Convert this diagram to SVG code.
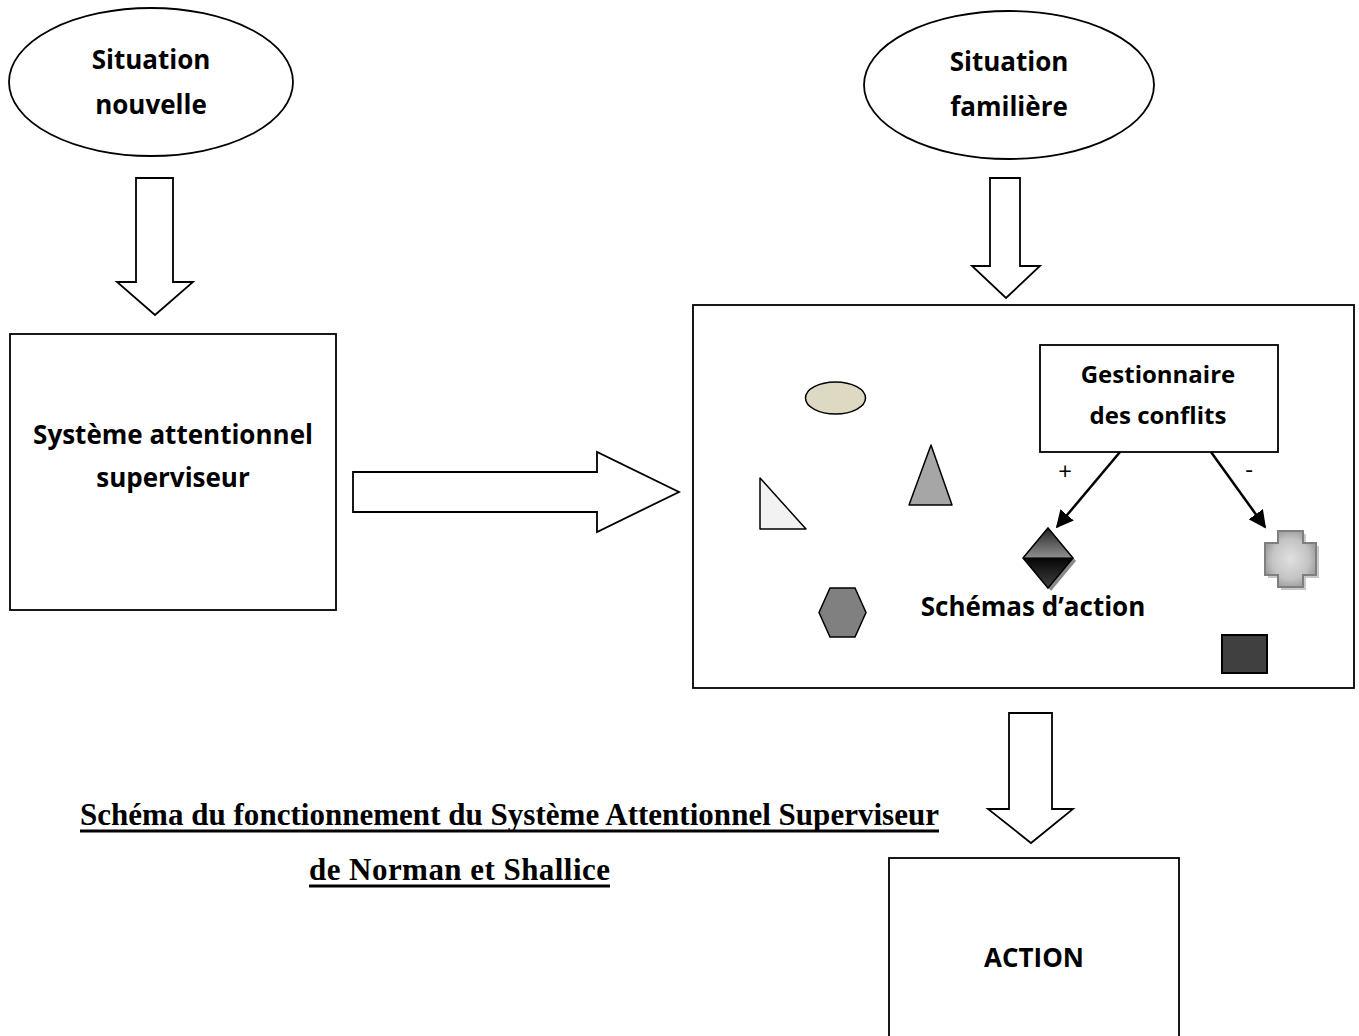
<svg xmlns="http://www.w3.org/2000/svg" width="1359" height="1036" viewBox="0 0 1359 1036">
  <style>
    .box { fill: #ffffff; stroke: #000000; stroke-width: 1.8; }
    .block { fill: #ffffff; stroke: #000000; stroke-width: 1.8; stroke-linejoin: miter; }
    .lbl { font-family: "Open Sans", "Liberation Sans", sans-serif; font-weight: bold; font-size: 26px; fill: #000000; text-anchor: middle; }
    .lbl-sm { font-family: "Open Sans", "Liberation Sans", sans-serif; font-weight: bold; font-size: 24px; fill: #000000; text-anchor: middle; }
    .sign { font-family: "Open Sans", "Liberation Sans", sans-serif; font-size: 24px; fill: #000000; text-anchor: middle; }
    .title { font-family: "Liberation Serif", "Times New Roman", serif; font-weight: bold; font-size: 31px; fill: #000000; }
    .rule { stroke: #000000; stroke-width: 3; }
    .thin { stroke: #000000; stroke-width: 2.5; fill: none; }
  </style>
  <defs>
    <marker id="head" viewBox="0 0 10 10" refX="9" refY="5" markerWidth="7" markerHeight="7" markerUnits="strokeWidth" orient="auto">
      <path d="M0,0 L10,5 L0,10 Z" fill="#000000"/>
    </marker>
    <linearGradient id="diamondFill" x1="0" y1="0" x2="0" y2="1">
      <stop offset="0" stop-color="#262626"/>
      <stop offset="0.48" stop-color="#8c8c8c"/>
      <stop offset="0.5" stop-color="#050505"/>
      <stop offset="1" stop-color="#404040"/>
    </linearGradient>
    <radialGradient id="crossFill" cx="0.5" cy="0.5" r="0.6">
      <stop offset="0" stop-color="#e0e0e0"/>
      <stop offset="0.6" stop-color="#c4c4c4"/>
      <stop offset="1" stop-color="#8e8e8e"/>
    </radialGradient>
  </defs>

  <g id="situation-nouvelle">
    <ellipse class="box" cx="151" cy="82" rx="142" ry="74"/>
    <text class="lbl" x="151" y="69">Situation</text>
    <text class="lbl" x="151" y="114">nouvelle</text>
  </g>

  <g id="situation-familiere">
    <ellipse class="box" cx="1009" cy="85" rx="145" ry="74"/>
    <text class="lbl" x="1009" y="71">Situation</text>
    <text class="lbl" x="1009" y="116">familière</text>
  </g>

  <g id="sas">
    <rect class="box" x="10" y="334" width="326" height="276"/>
    <text class="lbl" x="173" y="444">Système attentionnel</text>
    <text class="lbl" x="173" y="487">superviseur</text>
  </g>

  <g id="schemas">
    <rect class="box" x="693" y="305" width="661" height="383"/>
    <ellipse cx="835.5" cy="398" rx="30" ry="16" fill="#ddd9c3" stroke="#000000" stroke-width="1.5"/>
    <path d="M760,478 L760,529 L806,529 Z" fill="#f2f2f2" stroke="#000000" stroke-width="1.5" stroke-linejoin="round"/>
    <path d="M931,445 L952,505 L909,505 Z" fill="#a6a6a6" stroke="#000000" stroke-width="1.5" stroke-linejoin="round"/>
    <path d="M830,588 H855 L866,612.5 L855,637 H830 L819,612.5 Z" fill="#808080" stroke="#000000" stroke-width="1.5"/>
    <!-- diamond with its drop shadow -->
    <path d="M1051,531 L1076,561 L1051,591 L1026,561 Z" fill="#8a8a8a"/>
    <path d="M1048,528 L1073,558 L1048,588 L1023,558 Z" fill="url(#diamondFill)" stroke="#000000" stroke-width="1.5"/>
    <!-- cross with its drop shadow -->
    <path d="M1281,534 H1306 V546 H1319 V578 H1306 V590 H1281 V578 H1268 V546 H1281 Z" fill="#c8c8c8"/>
    <path d="M1278,531 H1303 V543 H1316 V575 H1303 V587 H1278 V575 H1265 V543 H1278 Z" fill="url(#crossFill)" stroke="#7f7f7f" stroke-width="2"/>
    <rect x="1222" y="635" width="45" height="38" fill="#404040" stroke="#000000" stroke-width="2"/>
    <text class="lbl" x="1033" y="616">Schémas d’action</text>
  </g>

  <g id="gestionnaire">
    <rect class="box" x="1040" y="345" width="238" height="107"/>
    <text class="lbl-sm" x="1158" y="383">Gestionnaire</text>
    <text class="lbl-sm" x="1158" y="424">des conflits</text>
  </g>

  <g id="action">
    <rect class="box" x="889" y="858" width="290" height="190"/>
    <text class="lbl" x="1034" y="967">ACTION</text>
  </g>

  <g id="caption">
    <text class="title" x="80" y="825" textLength="859" lengthAdjust="spacing">Schéma du fonctionnement du Système Attentionnel Superviseur</text>
    <line class="rule" x1="80" y1="831" x2="939" y2="831"/>
    <text class="title" x="309" y="880" textLength="301" lengthAdjust="spacing">de Norman et Shallice</text>
    <line class="rule" x1="309" y1="886" x2="610" y2="886"/>
  </g>

  <!-- connectors: block arrows and the two signed links -->
  <g id="connectors">
    <path class="block" d="M136,178 H173 V282 H193 L155,315 L117,282 H136 Z"/>
    <path class="block" d="M990,178 H1020 V266 H1040 L1006,298 L972,266 H990 Z"/>
    <path class="block" d="M353,472 H597 V452 L679,492 L597,532 V512 H353 Z"/>
    <path class="block" d="M1009,713 H1052 V809 H1073 L1031,843 L988,809 H1009 Z"/>
    <line class="thin" x1="1120" y1="452" x2="1057" y2="527" marker-end="url(#head)"/>
    <line class="thin" x1="1211" y1="452" x2="1265" y2="527" marker-end="url(#head)"/>
    <text class="sign" x="1065" y="480">+</text>
    <text class="sign" x="1249" y="478">-</text>
  </g>
</svg>
